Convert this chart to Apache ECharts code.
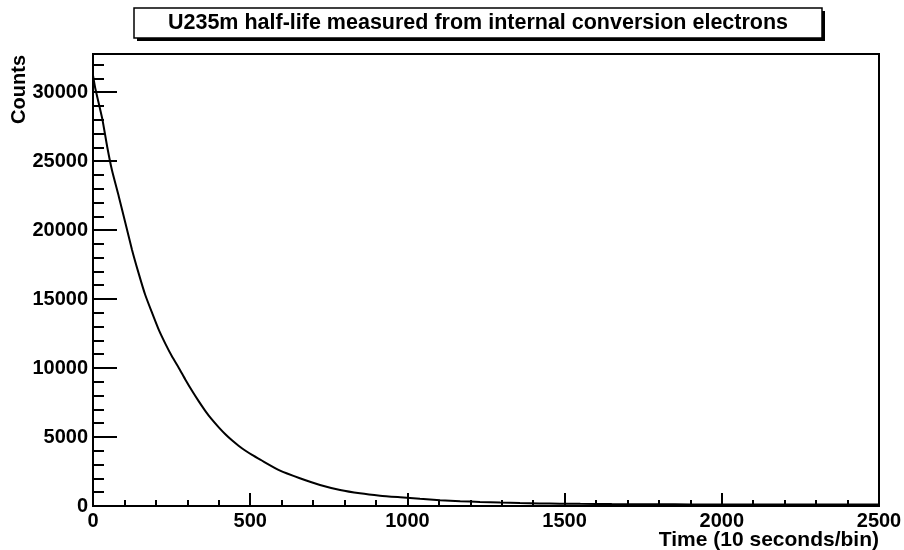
<!DOCTYPE html>
<html>
<head>
<meta charset="utf-8">
<script src="https://cdn.jsdelivr.net/npm/echarts@6/dist/echarts.min.js"></script>
<style>
html,body{margin:0;padding:0;background:#fff;}
#c{width:904px;height:550px;}
</style>
</head>
<body>
<div id="c"></div>
<script>
const titleText = 'U235m half-life measured from internal conversion electrons';
const xTitle = 'Time (10 seconds/bin)';
const yTitle = 'Counts';
const bins = [0,7,29,45,60,82,103,124,145,166,188,209,230,251,273,294,315,336,357,378,400,421,442,463,484,506,532,595,658,722,786,849,913,977,1040,1104,1168,1231,1295,1358,1420,1485,1550,1650,1750,1850,1950,2050,2150,2250,2350,2450,2500];
const counts = [31200,30300,28120,26060,24370,22440,20510,18580,16880,15310,13990,12780,11770,10850,10010,9150,8350,7600,6900,6270,5700,5200,4760,4370,4020,3700,3360,2560,2010,1520,1160,920,750,630,520,420,350,295,250,215,190,170,155,140,130,120,115,110,105,105,100,100,100];
const yMax = 32760;
const xMax = 2500;

const FONT = '"Liberation Sans", Arial, Helvetica, sans-serif';
const data = bins.map((b, i) => [b, counts[i]]);
const plain = v => String(v);

const chart = echarts.init(document.getElementById('c'), null, {renderer: 'canvas'});
chart.setOption({
  animation: false,
  backgroundColor: '#fff',
  grid: {left: 93, right: 25, top: 54, bottom: 44, containLabel: false, outerBoundsMode: 'none', show: true, borderColor: '#000', borderWidth: 2, backgroundColor: 'transparent'},
  xAxis: {
    type: 'value', min: 0, max: xMax, interval: 500,
    axisLine: {show: true, onZero: false, lineStyle: {color: '#000', width: 2}},
    axisTick: {show: true, inside: true, length: 13, lineStyle: {color: '#000', width: 2}},
    minorTick: {show: true, splitNumber: 5, length: 6, lineStyle: {color: '#000', width: 2}},
    splitLine: {show: false},
    axisLabel: {color: '#000', fontFamily: FONT, fontWeight: 'bold', fontSize: 20, margin: 5, formatter: plain}
  },
  yAxis: [{
    type: 'value', min: 0, max: yMax, interval: 5000,
    axisLine: {show: true, lineStyle: {color: '#000', width: 2}},
    axisTick: {show: true, inside: true, length: 24, lineStyle: {color: '#000', width: 2}},
    splitLine: {show: false},
    axisLabel: {color: '#000', fontFamily: FONT, fontWeight: 'bold', fontSize: 20, margin: 5, showMaxLabel: false, formatter: plain}
  }, {
    type: 'value', min: 0, max: yMax, interval: 1000, position: 'left',
    axisLine: {show: false},
    axisTick: {show: true, inside: true, length: 11, lineStyle: {color: '#000', width: 2}},
    splitLine: {show: false},
    axisLabel: {show: false}
  }],
  series: [{
    type: 'line', data: data, yAxisIndex: 0, showSymbol: false, symbol: 'none', smooth: 0.2,
    lineStyle: {color: '#000', width: 2}, z: 5
  }],
  graphic: [
    {type: 'rect', shape: {x: 137, y: 11, width: 688, height: 30}, style: {fill: '#000'}, z: 10},
    {type: 'rect', shape: {x: 134, y: 8, width: 688, height: 30}, style: {fill: '#fff', stroke: '#000', lineWidth: 1.5}, z: 11},
    {type: 'text', x: 478, y: 23, style: {text: titleText, fill: '#000', font: 'bold 21.5px ' + FONT, align: 'center', verticalAlign: 'middle'}, z: 12},
    {type: 'text', x: 19, y: 55, rotation: Math.PI / 2, style: {text: yTitle, fill: '#000', font: 'bold 20px ' + FONT, align: 'right', verticalAlign: 'middle'}, z: 12},
    {type: 'text', x: 879, y: 540, style: {text: xTitle, fill: '#000', font: 'bold 21px ' + FONT, align: 'right', verticalAlign: 'middle'}, z: 12}
  ]
});
</script>
</body>
</html>
